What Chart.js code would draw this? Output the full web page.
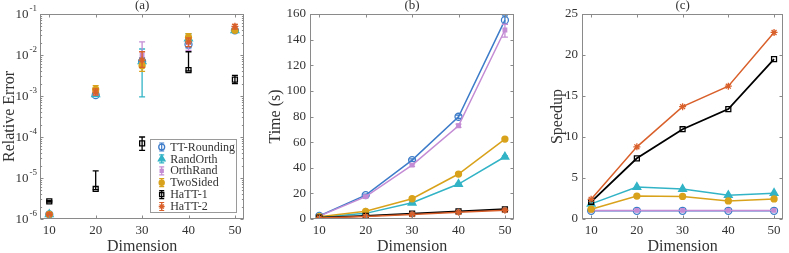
<!DOCTYPE html>
<html>
<head>
<meta charset="utf-8">
<script src="https://cdn.jsdelivr.net/npm/chart.js"></script>
<style>
  body { margin: 0; background: #fff; width: 789px; height: 253px; position: relative; overflow: hidden; }
  canvas { position: absolute; top: 0; }
</style>
</head>
<body>
<canvas id="chartA" width="250" height="256" style="left:0px"></canvas>
<canvas id="chartB" width="265" height="256" style="left:255px"></canvas>
<canvas id="chartC" width="261" height="256" style="left:528px"></canvas>
<script>
// x values and series names
const dims = [10, 20, 30, 40, 50];
const methods = ['TT-Rounding', 'RandOrth', 'OrthRand', 'TwoSided', 'HaTT-1', 'HaTT-2'];

// (a) relative error, one row per method (same order as methods)
const relErr = [
  [1.3e-6, 1.05e-3, 7.0e-3, 1.8e-2, 4.0e-2],
  [1.3e-6, 1.1e-3, 7.0e-3, 2.5e-2, 4.0e-2],
  [1.3e-6, 1.2e-3, 1.0e-2, 2.0e-2, 4.2e-2],
  [1.3e-6, 1.45e-3, 5.5e-3, 2.7e-2, 4.0e-2],
  [2.7e-6, 5.4e-6, 7.0e-5, 4.3e-3, 2.5e-3],
  [1.3e-6, 1.25e-3, 7.5e-3, 2.1e-2, 5.0e-2]
];
const relErrLow = [
  [1.2e-6, 1.0e-3, 6.0e-3, 1.5e-2, 3.7e-2],
  [1.2e-6, 1.0e-3, 9.5e-4, 2.0e-2, 3.6e-2],
  [1.2e-6, 1.05e-3, 6.5e-3, 1.3e-2, 3.8e-2],
  [1.2e-6, 1.2e-3, 4.0e-3, 2.2e-2, 3.7e-2],
  [2.6e-6, 5.2e-6, 4.7e-5, 4.1e-3, 2.0e-3],
  [1.2e-6, 1.05e-3, 5.0e-3, 1.6e-2, 4.3e-2]
];
const relErrHigh = [
  [1.4e-6, 1.15e-3, 8.5e-3, 2.2e-2, 4.4e-2],
  [1.45e-6, 1.25e-3, 1.4e-2, 3.3e-2, 4.5e-2],
  [1.4e-6, 1.4e-3, 2.1e-2, 2.8e-2, 4.6e-2],
  [1.4e-6, 1.8e-3, 7.5e-3, 3.3e-2, 4.4e-2],
  [2.8e-6, 1.5e-5, 1.0e-4, 1.2e-2, 3.2e-3],
  [1.4e-6, 1.5e-3, 1.2e-2, 2.6e-2, 5.6e-2]
];

// (b) time in seconds
const time = [
  [2.4, 18.6, 46, 79.8, 155.2],
  [1.3, 4.4, 12.7, 27.3, 48.6],
  [2.2, 17.4, 42, 72.8, 147.5],
  [1.8, 6.0, 15.8, 35.1, 62.4],
  [1.0, 2.4, 4.2, 6.0, 7.6],
  [0.8, 2.0, 3.5, 5.2, 6.8]
];
const timeLow = [
  [2.2, 17.8, 45, 78.5, 152],
  [1.1, 4.1, 12.3, 26.8, 48],
  [2.0, 16.8, 41, 71.5, 142],
  [1.6, 5.7, 15.4, 34.6, 61.8],
  [0.9, 2.2, 4.0, 5.8, 7.3],
  [0.7, 1.8, 3.3, 5.0, 6.5]
];
const timeHigh = [
  [2.6, 19.4, 47, 81, 158.5],
  [1.5, 4.7, 13.1, 27.8, 49.2],
  [2.4, 18, 43, 74, 152],
  [2.0, 6.3, 16.2, 35.6, 63],
  [1.1, 2.6, 4.4, 6.2, 7.9],
  [0.9, 2.2, 3.7, 5.4, 7.1]
];

// (c) speedup
const speedup = [
  [1.0, 1.0, 1.0, 1.0, 1.0],
  [1.85, 3.9, 3.65, 2.9, 3.15],
  [1.05, 1.05, 1.05, 1.05, 1.05],
  [1.2, 2.8, 2.75, 2.2, 2.45],
  [2.1, 7.4, 10.95, 13.4, 19.5],
  [2.4, 8.8, 13.7, 16.2, 22.75]
];

const logTicks = [1e-6, 1e-5, 1e-4, 1e-3, 1e-2, 1e-1];

// styles
const colors = ['#3d7cc9', '#33b4c6', '#c48cd4', '#d9a21b', '#000000', '#d9602b'];
const fills  = ['rgba(0,0,0,0)', '#33b4c6', '#c48cd4', '#d9a21b', 'rgba(0,0,0,0)', '#d9602b'];
const marks  = ['circle', 'triangle', 'rect', 'circle', 'rect', 'star'];
const radii  = [3.5, 4.5, 2.5, 3, 3.5, 3.5];

Chart.defaults.font.family = '"Liberation Serif", "Times New Roman", serif';
Chart.defaults.color = '#333';

const TEXT = '#333';
const BOX = '#8a8a8a';

function makeSets(vals, lows, highs, showLine) {
  return methods.map((name, i) => ({
    label: name,
    data: dims.map((d, j) => ({ x: d, y: vals[i][j] })),
    errLow: lows ? lows[i] : null,
    errHigh: highs ? highs[i] : null,
    showLine: showLine,
    borderColor: colors[i],
    backgroundColor: fills[i],
    pointBorderColor: colors[i],
    pointBackgroundColor: fills[i],
    pointStyle: marks[i],
    pointRadius: radii[i],
    pointBorderWidth: 1.3,
    borderWidth: i === 4 ? 1.8 : 1.5,
    order: methods.length - i
  }));
}

// error bars drawn under each dataset's markers
const errorBars = {
  id: 'errorBars',
  beforeDatasetDraw(chart, args) {
    const ds = chart.data.datasets[args.index];
    if (!ds.errLow) return;
    const ctx = chart.ctx, xs = chart.scales.x, ys = chart.scales.y;
    ctx.save();
    ctx.strokeStyle = ds.borderColor;
    ctx.lineWidth = 1.3;
    ds.data.forEach((p, j) => {
      const x = xs.getPixelForValue(p.x);
      const y1 = ys.getPixelForValue(ds.errLow[j]);
      const y2 = ys.getPixelForValue(ds.errHigh[j]);
      ctx.beginPath();
      ctx.moveTo(x, y1); ctx.lineTo(x, y2);
      ctx.moveTo(x - 3, y1); ctx.lineTo(x + 3, y1);
      ctx.moveTo(x - 3, y2); ctx.lineTo(x + 3, y2);
      ctx.stroke();
    });
    ctx.restore();
  }
};

// matlab style box, inward ticks, title, log labels, legend
const frame = {
  id: 'frame',
  afterDraw(chart, args, opts) {
    const { ctx, chartArea: a, scales } = chart;
    const L = Math.round(a.left) + 0.5, R = Math.round(a.right) - 0.5;
    const T = Math.round(a.top) + 0.5, B = Math.round(a.bottom) - 0.5;
    ctx.save();
    ctx.strokeStyle = BOX;
    ctx.lineWidth = 1;
    ctx.strokeRect(L, T, R - L, B - T);

    ctx.beginPath();
    scales.x.ticks.forEach(t => {
      const x = Math.round(scales.x.getPixelForValue(t.value)) + 0.5;
      ctx.moveTo(x, B); ctx.lineTo(x, B - 3);
      ctx.moveTo(x, T); ctx.lineTo(x, T + 3);
    });
    const ys = scales.y;
    const yTick = (v, len) => {
      const y = Math.round(ys.getPixelForValue(v)) + 0.5;
      ctx.moveTo(L, y); ctx.lineTo(L + len, y);
      ctx.moveTo(R, y); ctx.lineTo(R - len, y);
    };
    if (opts.log) {
      logTicks.forEach(v => yTick(v, 3));
      for (let k = 0; k < logTicks.length - 1; k++) {
        for (let m = 2; m <= 9; m++) yTick(m * logTicks[k], 1.6);
      }
    } else {
      ys.ticks.forEach(t => yTick(t.value, 3));
    }
    ctx.stroke();

    ctx.fillStyle = TEXT;
    ctx.textAlign = 'center';
    ctx.textBaseline = 'middle';
    ctx.font = '13px "Liberation Serif", serif';
    ctx.fillText(opts.title, (a.left + a.right) / 2, 6);

    if (opts.log) {
      logTicks.forEach(v => {
        const y = ys.getPixelForValue(v);
        const exp = String(Math.round(Math.log10(v)));
        ctx.textAlign = 'right';
        ctx.font = '9px "Liberation Serif", serif';
        const ew = ctx.measureText(exp).width;
        ctx.fillText(exp, a.left - 3, y - 5);
        ctx.font = '13px "Liberation Serif", serif';
        ctx.fillText('10', a.left - 4 - ew, y + 1);
      });
    }

    if (opts.legend) {
      const w = 86, h = 73;
      const lx = a.right - 8 - w, ly = a.bottom - 7 - h;
      ctx.fillStyle = '#fff';
      ctx.fillRect(lx, ly, w, h);
      ctx.strokeStyle = '#9a9a9a';
      ctx.strokeRect(Math.round(lx) + 0.5, Math.round(ly) + 0.5, w, h);
      chart.data.datasets.forEach((ds, i) => {
        const cy = ly + 8 + i * 11.9;
        const cx = lx + 11.5;
        ctx.strokeStyle = ds.borderColor;
        ctx.lineWidth = 1.2;
        ctx.beginPath();
        ctx.moveTo(cx, cy - 4); ctx.lineTo(cx, cy + 4);
        ctx.moveTo(cx - 2.5, cy - 4); ctx.lineTo(cx + 2.5, cy - 4);
        ctx.moveTo(cx - 2.5, cy + 4); ctx.lineTo(cx + 2.5, cy + 4);
        ctx.stroke();
        ctx.fillStyle = ds.pointBackgroundColor;
        ctx.lineWidth = 1.3;
        if (Chart.helpers && Chart.helpers.drawPoint) {
          Chart.helpers.drawPoint(ctx, { pointStyle: ds.pointStyle, radius: ds.pointRadius * 0.85, borderWidth: 1.3, rotation: 0 }, cx, cy);
        }
        ctx.fillStyle = TEXT;
        ctx.textAlign = 'left';
        ctx.textBaseline = 'middle';
        ctx.font = '12px "Liberation Serif", serif';
        ctx.fillText(ds.label, lx + 20, cy + 0.5);
      });
    }
    ctx.restore();
  }
};

function xAxis() {
  return {
    type: 'linear',
    min: 8, max: 52,
    grid: { display: false, drawTicks: false },
    border: { display: false },
    afterBuildTicks: s => { s.ticks = dims.map(v => ({ value: v })); },
    afterFit: s => { s.height = 37; },
    ticks: { padding: 4, color: TEXT, font: { size: 13 } },
    title: { display: true, text: 'Dimension', color: TEXT, font: { size: 16 }, padding: { top: 0, bottom: 0 } }
  };
}

function makeChart(id, sets, yScale, yWidth, plug) {
  return new Chart(document.getElementById(id), {
    type: 'line',
    data: { datasets: sets },
    options: {
      responsive: false,
      animation: false,
      devicePixelRatio: 1,
      layout: { padding: { top: 14, right: 4, left: 0, bottom: 0 } },
      plugins: { legend: { display: false }, tooltip: { enabled: false }, frame: plug },
      scales: {
        x: xAxis(),
        y: Object.assign({
          grid: { display: false, drawTicks: false },
          border: { display: false },
          afterFit: s => { s.width = yWidth; }
        }, yScale)
      }
    },
    plugins: [errorBars, frame]
  });
}

makeChart('chartA', makeSets(relErr, relErrLow, relErrHigh, false), {
  type: 'logarithmic',
  min: 1e-6, max: 1e-1,
  afterBuildTicks: s => { s.ticks = logTicks.map(v => ({ value: v })); },
  ticks: { display: false },
  title: { display: true, text: 'Relative Error', color: TEXT, font: { size: 16 }, padding: { top: 0, bottom: 0 } }
}, 40, { title: '(a)', log: true, legend: true });

makeChart('chartB', makeSets(time, timeLow, timeHigh, true), {
  type: 'linear',
  min: 0, max: 160,
  ticks: { stepSize: 20, padding: 4, color: TEXT, font: { size: 13 } },
  title: { display: true, text: 'Time (s)', color: TEXT, font: { size: 16 }, padding: { top: 11, bottom: 0 } }
}, 55, { title: '(b)' });

makeChart('chartC', makeSets(speedup, null, null, true), {
  type: 'linear',
  min: 0, max: 25,
  ticks: { stepSize: 5, padding: 4, color: TEXT, font: { size: 13 } },
  title: { display: true, text: 'Speedup', color: TEXT, font: { size: 16 }, padding: { top: 20, bottom: 0 } }
}, 54, { title: '(c)' });
</script>
</body>
</html>
